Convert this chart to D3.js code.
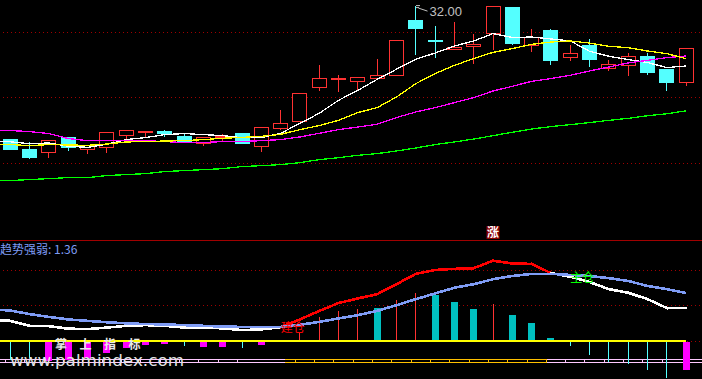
<!DOCTYPE html>
<html>
<head>
<meta charset="utf-8">
<title>趋势强弱</title>
<script src="https://cdn.jsdelivr.net/npm/d3@7"></script>
<style>
html, body { margin: 0; padding: 0; background: #000; overflow: hidden; }
svg { display: block; }
</style>
</head>
<body>
<div id="chart"></div>
<script>
// candles
var opens  = [21.83,21.07,20.84,21.98,21.03,21.22,22.14,22.39,22.44,22.06,21.49,22.04,22.29,21.30,22.63,23.17,25.80,26.42,26.26,26.49,26.68,30.92,29.39,28.70,28.93,29.89,31.91,29.01,30.15,28.05,29.01,27.25,27.44,28.17,27.18,26.14];
var highs  = [21.83,21.60,21.76,21.98,21.37,22.37,22.52,22.45,22.52,22.21,21.95,22.21,22.29,22.75,24.05,25.34,27.48,26.72,26.56,27.94,29.39,32.00,30.46,30.76,29.85,31.98,31.91,30.23,30.23,29.01,29.47,27.86,28.40,28.40,27.18,28.74];
var lows   = [21.00,20.30,20.38,20.92,20.69,20.76,21.76,21.91,21.98,21.60,21.30,21.68,21.45,20.84,22.52,23.17,25.50,25.42,25.57,26.34,26.68,28.24,28.02,28.70,27.56,28.63,29.01,28.47,27.48,27.79,27.33,27.02,26.64,26.72,25.50,25.88];
var closes = [21.07,20.46,21.76,21.22,21.37,22.37,22.52,22.42,22.29,21.60,21.95,22.06,21.53,22.75,23.01,25.34,26.49,26.45,26.56,26.72,29.39,30.31,29.27,28.85,29.08,31.98,29.16,29.62,27.86,28.36,27.94,27.52,28.13,26.95,26.18,28.74];

// moving averages, first value belongs to the bar just left of the window
var ma5  = [21.68,21.64,21.50,21.55,21.30,21.22,21.45,21.81,21.96,22.19,22.27,22.19,22.11,21.96,21.96,22.29,23.05,23.82,24.81,25.57,26.41,27.18,27.94,28.42,28.95,29.34,29.90,29.60,29.64,29.49,29.34,28.55,28.17,27.92,27.69,27.31,27.43];
var ma10 = [21.45,21.43,21.35,21.43,21.40,21.37,21.47,21.63,21.66,21.70,21.73,21.81,21.91,21.98,22.06,22.21,22.57,22.88,23.28,23.87,24.25,25.06,26.08,26.85,27.48,27.99,28.47,28.76,29.08,29.26,29.34,29.18,28.93,28.83,28.57,28.37,27.99];
var ma30 = [22.50,22.50,22.42,22.27,21.89,21.73,21.73,21.73,21.73,21.66,21.58,21.58,21.66,21.66,21.73,21.81,22.01,22.29,22.57,22.77,22.98,23.49,23.92,24.25,24.63,25.02,25.52,25.88,26.26,26.47,26.72,27.05,27.35,27.66,27.86,28.07,28.19];
var ma60 = [18.68,18.68,18.76,18.83,18.91,18.91,19.06,19.14,19.21,19.37,19.44,19.52,19.59,19.75,19.82,19.90,20.05,20.28,20.43,20.61,20.74,20.94,21.17,21.43,21.63,21.85,22.11,22.37,22.62,22.80,22.95,23.11,23.28,23.43,23.63,23.78,24.01];
var priceTicks = [30, 25, 20];
var peakLabel = "32.00";
var peakIndex = 21;

// lower panel
var fastLine = [0.60,0.58,0.44,0.43,0.36,0.35,0.39,0.44,0.46,0.44,0.39,0.39,0.37,0.32,0.34,0.40,0.62,0.86,1.08,1.21,1.33,1.61,1.90,2.01,2.04,2.06,2.27,2.19,2.18,1.92,1.82,1.67,1.47,1.37,1.19,0.94,0.94];
var slowLine = [0.90,0.87,0.77,0.69,0.62,0.58,0.54,0.51,0.49,0.48,0.46,0.44,0.42,0.41,0.41,0.41,0.47,0.55,0.65,0.74,0.86,1.02,1.19,1.35,1.51,1.61,1.75,1.84,1.90,1.90,1.87,1.84,1.78,1.70,1.56,1.47,1.36];
var histValues = [-0.52,-0.46,-0.55,-0.52,-0.46,-0.32,-0.18,-0.10,-0.07,-0.12,-0.15,-0.15,-0.18,-0.10,0,0.25,0.68,0.86,0.91,0.93,1.17,1.35,1.31,1.11,0.91,1.05,0.74,0.52,0.10,-0.13,-0.38,-0.58,-0.63,-0.80,-1.03,-0.80];
var histWide = [0,0,1,1,1,1,1,1,1,0,1,1,0,1,0,0,0,0,0,1,0,0,1,1,1,0,1,1,1,0,0,0,0,0,0,1];
var panelTicks = [2, 1, 0];
var panelTitle = "趋势强弱: 1.36";
var signalLabels = ["建仓", "主仓"];
var signalIndex = [14, 29];
var signalLevel = [0.27, 1.67];
var stripChanges = [14.24, 27.76];
var stripTicks = [0,1,2,3,4,5,6,7,8,9,10,11,12,15,16,17,18,19,20,21,22,23,24,25,26,27,28,29,30,31,32,33,34];

var w = 702;
var h = 379;
var red = "#ff3232";
var cyan = "#54ffff";
var blue = "#7f9cf5";
var gridRed = "#a00000";

var x = d3.scaleLinear().domain([0, 35]).range([10.3, 686.15]);
var y = d3.scaleLinear().domain([30, 20]).range([32.3, 163.3]);
var y2 = d3.scaleLinear().domain([0, 2]).range([341.5, 270.3]);

// wicks and bars sit on whole pixel columns
function px(i) { return Math.floor(x(i)) + 0.5; }

var svg = d3.select("#chart").append("svg")
    .attr("width", w)
    .attr("height", h)
    .style("background", "#000");

function hLine(yPos, color, x1, x2, dash) {
    svg.append("line")
        .attr("x1", x1).attr("x2", x2)
        .attr("y1", yPos).attr("y2", yPos)
        .attr("stroke", color)
        .attr("stroke-dasharray", dash || null)
        .attr("shape-rendering", "crispEdges");
}

// dotted grid
priceTicks.forEach(function(t) { hLine(y(t), gridRed, 3, w, "1,3"); });
panelTicks.forEach(function(t) { hLine(y2(t), gridRed, 3, w, "1,3"); });

// panel divider
hLine(240.5, gridRed, 0, w);

// candles
var candles = svg.append("g").attr("shape-rendering", "crispEdges");
opens.forEach(function(o, i) {
    var c = closes[i];
    var up = c >= o;
    var color = up ? red : cyan;
    var top = y(Math.max(o, c));
    var bottom = y(Math.min(o, c));
    candles.append("line")
        .attr("x1", px(i)).attr("x2", px(i))
        .attr("y1", y(highs[i])).attr("y2", top)
        .attr("stroke", color);
    candles.append("line")
        .attr("x1", px(i)).attr("x2", px(i))
        .attr("y1", bottom).attr("y2", y(lows[i]))
        .attr("stroke", color);
    candles.append("rect")
        .attr("x", px(i) - 7)
        .attr("y", top)
        .attr("width", 14)
        .attr("height", Math.max(bottom - top, 1))
        .attr("fill", up ? "#000" : cyan)
        .attr("stroke", color);
});

// moving averages
var maLine = d3.line()
    .x(function(d, i) { return x(i - 1); })
    .y(function(d) { return y(d); });

[[ma5, "#ffffff"], [ma30, "#ff00ff"], [ma10, "#ffff00"], [ma60, "#00ff00"]].forEach(function(m) {
    svg.append("path")
        .attr("d", maLine(m[0]))
        .attr("fill", "none")
        .attr("stroke", m[1])
        .attr("stroke-width", 1.3)
        .attr("shape-rendering", "crispEdges");
});

// high marker with its little flag
var peakX = px(peakIndex);
var peakY = y(highs[peakIndex]);
svg.append("path")
    .attr("d", "M" + (peakX + 0.5) + "," + (peakY - 0.5) + "h4M" + (peakX + 0.5) + "," + (peakY + 1.5) + "h3"
        + "M" + (peakX + 3) + "," + (peakY + 2) + "L" + (peakX + 12) + "," + (peakY + 5))
    .attr("fill", "none")
    .attr("stroke", "#c0c0c0");
svg.append("text")
    .attr("x", peakX + 14)
    .attr("y", peakY + 10)
    .attr("font-family", "'Liberation Sans', sans-serif")
    .attr("font-size", "13px")
    .attr("fill", "#c0c0c0")
    .text(peakLabel);

// rising badge on the divider
svg.append("rect")
    .attr("x", px(25) - 7)
    .attr("y", 226)
    .attr("width", 13)
    .attr("height", 13)
    .attr("fill", "#8b0000");
svg.append("text")
    .attr("x", px(25) - 0.5)
    .attr("y", 237)
    .attr("text-anchor", "middle")
    .attr("font-family", "'Noto Sans CJK SC', sans-serif")
    .attr("font-weight", "bold")
    .attr("font-size", "12px")
    .attr("fill", "#fff")
    .text("涨");

// panel title
svg.append("text")
    .attr("x", 0)
    .attr("y", 254)
    .attr("font-family", "'Noto Sans CJK SC', sans-serif")
    .attr("font-size", "12px")
    .attr("fill", blue)
    .text(panelTitle);

// state strip under the histogram
var strip = svg.append("g").attr("shape-rendering", "crispEdges");
var stripEdges = [x.invert(0)].concat(stripChanges, [x.invert(w)]);
stripEdges.slice(1).forEach(function(edge, n) {
    var color = n === 1 ? "#ffc000" : "#ffc8ff";
    [359, 362].forEach(function(yPos) {
        strip.append("line")
            .attr("x1", x(stripEdges[n])).attr("x2", x(edge))
            .attr("y1", yPos + 0.5).attr("y2", yPos + 0.5)
            .attr("stroke", color);
    });
});
stripTicks.forEach(function(i) {
    var pos = i - 0.24;
    var inGold = pos >= stripChanges[0] && pos <= stripChanges[1];
    strip.append("line")
        .attr("x1", x(pos)).attr("x2", x(pos))
        .attr("y1", 359).attr("y2", 363)
        .attr("stroke", inGold ? "#ffc000" : "#ffc8ff");
});

// histogram
var bars = svg.append("g").attr("shape-rendering", "crispEdges");
histValues.forEach(function(v, i) {
    if (v === 0) return;
    var wide = histWide[i] === 1;
    var color = v > 0 ? (wide ? "#00c0c0" : red) : (wide ? "#ff00ff" : cyan);
    bars.append("rect")
        .attr("x", wide ? px(i) - 3.5 : px(i) - 0.5)
        .attr("y", Math.min(y2(0), y2(v)))
        .attr("width", wide ? 7 : 1)
        .attr("height", Math.abs(y2(v) - y2(0)))
        .attr("fill", color);
});

// zero line
svg.append("line")
    .attr("x1", 0).attr("x2", x(35))
    .attr("y1", y2(0) - 0.5).attr("y2", y2(0) - 0.5)
    .attr("stroke", "#ffff00")
    .attr("stroke-width", 2)
    .attr("shape-rendering", "crispEdges");

// fast line is red while it stays above the slow one
var panelLine = d3.line()
    .x(function(d) { return x(d[0] - 1); })
    .y(function(d) { return y2(d[1]); });

fastLine.forEach(function(v, i) {
    if (i === 0) return;
    var above = v > slowLine[i];
    svg.append("path")
        .attr("d", panelLine([[i - 1, fastLine[i - 1]], [i, v]]))
        .attr("fill", "none")
        .attr("stroke", above ? "#ff0000" : "#ffffff")
        .attr("stroke-width", 2.6)
        .attr("stroke-linecap", "square")
        .attr("shape-rendering", "crispEdges");
});
svg.append("path")
    .attr("d", panelLine(slowLine.map(function(v, i) { return [i, v]; })))
    .attr("fill", "none")
    .attr("stroke", blue)
    .attr("stroke-width", 2.6)
    .attr("shape-rendering", "crispEdges");

// trade signals
signalLabels.forEach(function(label, n) {
    svg.append("text")
        .attr("x", x(signalIndex[n]))
        .attr("y", y2(signalLevel[n]))
        .attr("font-family", "'Noto Sans CJK SC', sans-serif")
        .attr("font-size", "12px")
        .attr("fill", n === 0 ? "#ff0000" : "#00ff00")
        .text(label);
});

// watermark
["掌", "上", "指", "标"].forEach(function(ch, n) {
    svg.append("text")
        .attr("x", 55 + n * 24.5)
        .attr("y", 349)
        .attr("font-family", "'Noto Sans CJK SC', sans-serif")
        .attr("font-weight", "bold")
        .attr("font-size", "12px")
        .attr("fill", "#e8e8e8")
        .text(ch);
});
svg.append("text")
    .attr("x", 10)
    .attr("y", 366)
    .attr("font-family", "'DejaVu Sans', sans-serif")
    .attr("font-size", "15px")
    .attr("textLength", 174)
    .attr("lengthAdjust", "spacingAndGlyphs")
    .attr("fill", "#e4e4e4")
    .text("www.palmindex.com");
</script>
</body>
</html>
